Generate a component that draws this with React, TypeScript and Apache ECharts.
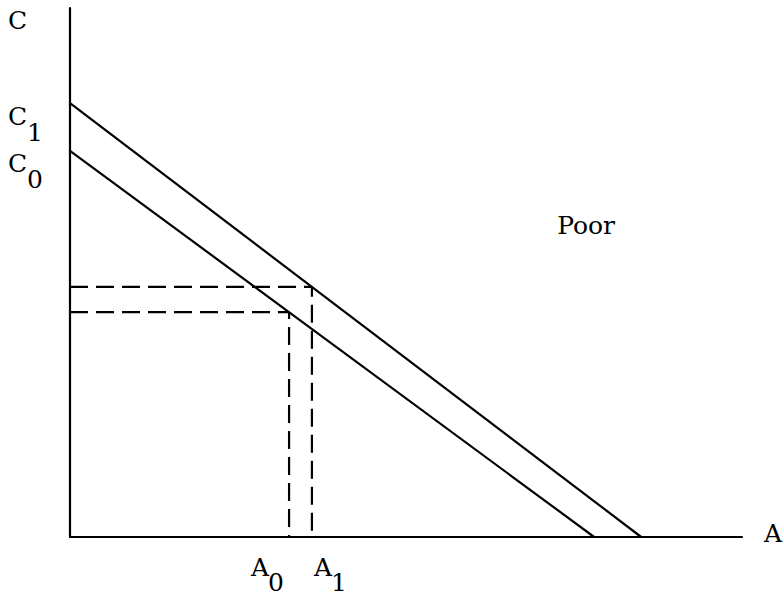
import React, { useEffect, useRef } from "react";
import * as echarts from "echarts";

// axis extents (arbitrary units)
const xRange = [0, 100];
const yRange = [0, 100];

// budget lines: [A, C]
const upperLine = [[0, 82], [85, 0]]; // through C1
const lowerLine = [[0, 73], [78, 0]]; // through C0

// dashed projections
const dashedUpper = [[0, 47.3], [36, 47.3], [36, 0]]; // A1
const dashedLower = [[0, 42.5], [32.6, 42.5], [32.6, 0]]; // A0

// labels: [main, subscript, anchorX, anchorY]
const yLabels: [string, string, number, number][] = [
  ["C", "1", 0, 82],
  ["C", "0", 0, 73],
];
const xLabels: [string, string, number, number][] = [
  ["A", "0", 32.6, 0],
  ["A", "1", 36, 0],
];
const regionLabel = { text: "Poor", x: 72.5, y: 58.8 };
const axisNames = { y: "C", x: "A" };

const FONT = '"DejaVu Serif", "Liberation Serif", serif';

export default function App() {
  const ref = useRef<HTMLDivElement>(null);
  useEffect(() => {
    if (!ref.current) return;
    const chart = echarts.init(ref.current, undefined, { renderer: "svg" });
    const lineStyle = { color: "#000", width: 2.2 };
    chart.setOption({
      animation: false,
      backgroundColor: "#fff",
      grid: { left: 70, top: 8, right: 41, bottom: 63 },
      xAxis: {
        type: "value",
        min: xRange[0],
        max: xRange[1],
        axisLine: { show: true, lineStyle: { color: "#000", width: 2.2 } },
        axisTick: { show: false },
        axisLabel: { show: false },
        splitLine: { show: false },
      },
      yAxis: {
        type: "value",
        min: yRange[0],
        max: yRange[1],
        axisLine: { show: true, lineStyle: { color: "#000", width: 2.2 } },
        axisTick: { show: false },
        axisLabel: { show: false },
        splitLine: { show: false },
      },
      series: [
        { type: "line", data: upperLine, symbol: "none", lineStyle },
        { type: "line", data: lowerLine, symbol: "none", lineStyle },
        {
          type: "line",
          data: dashedUpper,
          symbol: "none",
          lineStyle: { color: "#000", width: 2.2, type: [18, 8] },
        },
        {
          type: "line",
          data: dashedLower,
          symbol: "none",
          lineStyle: { color: "#000", width: 2.2, type: [18, 8] },
        },
      ],
    });

    const px = (x: number, y: number) =>
      chart.convertToPixel({ gridIndex: 0 }, [x, y]) as number[];
    const txt = (text: string, x: number, y: number, size = 25) => ({
      type: "text",
      x,
      y,
      style: {
        text,
        fill: "#000",
        fontFamily: FONT,
        fontSize: size,
        align: "left",
        verticalAlign: "middle",
      },
    });
    const elements: any[] = [];
    const top = px(0, yRange[1]);
    elements.push(txt(axisNames.y, top[0] - 62, top[1] + 12));
    const end = px(xRange[1], 0);
    elements.push(txt(axisNames.x, end[0] + 22, end[1] - 4));
    yLabels.forEach(([m, s, x, y]) => {
      const p = px(x, y);
      elements.push(txt(m, p[0] - 62, p[1] + 13));
      elements.push(txt(s, p[0] - 43, p[1] + 29));
    });
    xLabels.forEach(([m, s, x, y], i) => {
      const p = px(x, y);
      const dx = i === 0 ? -38 : 2;
      elements.push(txt(m, p[0] + dx, p[1] + 30));
      elements.push(txt(s, p[0] + dx + 17, p[1] + 45));
    });
    const rp = px(regionLabel.x, regionLabel.y);
    elements.push(txt(regionLabel.text, rp[0], rp[1]));
    chart.setOption({ graphic: { elements } });

    return () => chart.dispose();
  }, []);
  return (
    <div
      ref={ref}
      style={{ position: "fixed", left: 0, top: 0, width: 783, height: 600 }}
    />
  );
}
